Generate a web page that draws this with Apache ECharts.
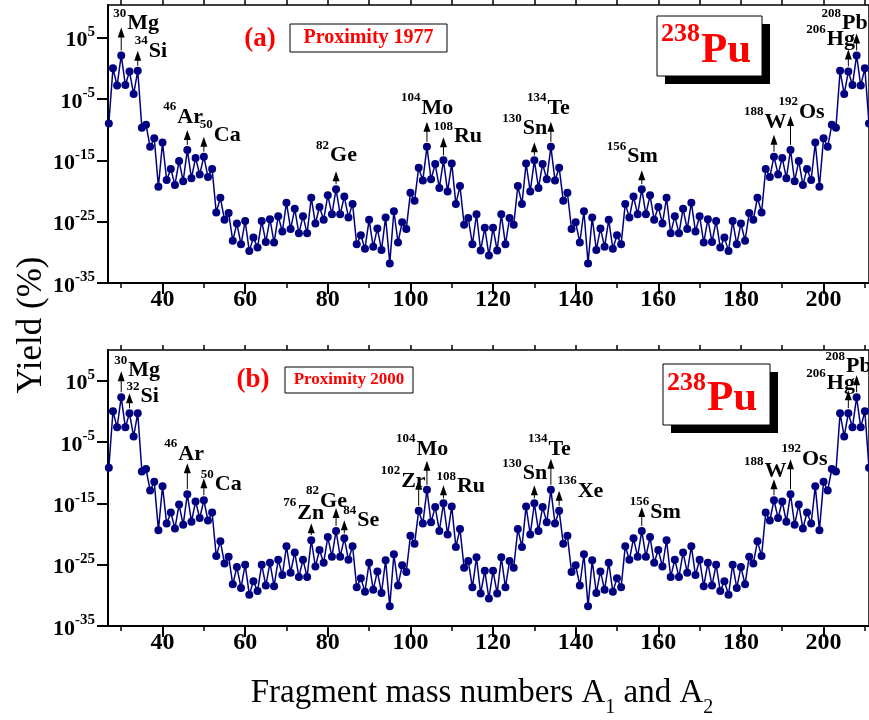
<!DOCTYPE html>
<html>
<head>
<meta charset="UTF-8">
<title>238Pu fragment yields</title>
<script src="https://cdn.jsdelivr.net/npm/echarts@6/dist/echarts.min.js"></script>
<style>
  html, body { margin: 0; padding: 0; background: #fff; }
  #chart { width: 869px; height: 720px; }
</style>
</head>
<body>
<div id="chart"></div>
<script>
  var massMin = 27, massMax = 211;
  var massNumbers = [];
  for (var a = massMin; a <= massMax; a++) massNumbers.push(a);

  // log10 of the yield (%) for A = 27 ... 211, panel (a) Proximity 1977
  var logYieldA = [
    -9.0, 0.0, -2.8, 2.1, -2.7, -0.5, -4.2, -0.4, -9.7, -9.2,
    -12.8, -11.4, -19.3, -12.1, -18.2, -16.4, -19.0, -15.1, -18.4, -13.3,
    -17.9, -14.6, -17.3, -14.4, -17.7, -16.4, -23.5, -21.1, -24.7, -23.6,
    -28.1, -25.3, -28.7, -24.9, -29.8, -27.6, -29.2, -24.9, -28.3, -24.6,
    -28.4, -24.1, -26.6, -21.9, -26.2, -22.9, -26.9, -24.1, -26.9, -21.1,
    -25.3, -22.6, -24.7, -20.7, -23.8, -19.7, -23.8, -20.9, -24.3, -22.1,
    -28.7, -27.2, -29.4, -24.7, -29.1, -26.1, -29.6, -24.3, -31.8, -23.3,
    -28.4, -25.1, -26.2, -20.3, -21.6, -16.2, -18.3, -12.8, -18.1, -15.6,
    -19.5, -15.0, -20.1, -15.5, -22.1, -19.2, -25.5, -24.4, -28.7, -23.8,
    -29.7, -26.0, -30.5,
    -26.0, -29.7, -23.8, -28.7, -24.4, -25.5, -19.2, -22.1, -15.5, -20.1,
    -15.0, -19.5, -15.6, -18.1, -12.8, -18.3, -16.2, -21.6, -20.3, -26.2,
    -25.1, -28.4, -23.3, -31.8, -24.3, -29.6, -26.1, -29.1, -24.7, -29.4,
    -27.2, -28.7, -22.1, -24.3, -20.9, -23.8, -19.7, -23.8, -20.7, -24.7,
    -22.6, -25.3, -21.1, -26.9, -24.1, -26.9, -22.9, -26.2, -21.9, -26.6,
    -24.1, -28.4, -24.6, -28.3, -24.9, -29.2, -27.6, -29.8, -24.9, -28.7,
    -25.3, -28.1, -23.6, -24.7, -21.1, -23.5, -16.4, -17.7, -14.4, -17.3,
    -14.6, -17.9, -13.3, -18.4, -15.1, -19.0, -16.4, -18.2, -12.1, -19.3,
    -11.4, -12.8, -9.2, -9.7, -0.4, -4.2, -0.5, -2.7, 2.1, -2.8,
    0.0, -9.0
  ];

  // log10 of the yield (%) for A = 27 ... 211, panel (b) Proximity 2000
  var logYieldB = [
    -9.2, 0.0, -2.6, 2.3, -2.6, -0.3, -4.1, -0.3, -9.8, -9.4,
    -12.9, -11.5, -19.4, -12.2, -18.3, -16.5, -19.1, -15.2, -18.5, -13.5,
    -18.0, -14.7, -17.4, -14.5, -17.8, -16.5, -23.6, -21.2, -24.8, -23.7,
    -28.2, -25.4, -28.8, -25.0, -29.9, -27.7, -29.3, -25.0, -28.4, -24.7,
    -28.5, -24.2, -26.7, -22.0, -26.3, -23.0, -27.0, -24.2, -27.0, -21.0,
    -25.3, -22.6, -24.7, -20.5, -23.7, -19.5, -23.7, -20.7, -24.2, -22.0,
    -28.7, -27.2, -29.4, -24.7, -29.1, -26.1, -29.6, -24.3, -31.8, -23.3,
    -28.4, -25.1, -26.2, -20.3, -21.6, -16.2, -18.3, -12.8, -18.1, -15.6,
    -19.5, -15.0, -20.1, -15.5, -22.1, -19.2, -25.5, -24.4, -28.7, -23.8,
    -29.7, -26.0, -30.5,
    -26.0, -29.7, -23.8, -28.7, -24.4, -25.5, -19.2, -22.1, -15.5, -20.1,
    -15.0, -19.5, -15.6, -18.1, -12.8, -18.3, -16.2, -21.6, -20.3, -26.2,
    -25.1, -28.4, -23.3, -31.8, -24.3, -29.6, -26.1, -29.1, -24.7, -29.4,
    -27.2, -28.7, -22.0, -24.2, -20.7, -23.7, -19.5, -23.7, -20.5, -24.7,
    -22.6, -25.3, -21.0, -27.0, -24.2, -27.0, -23.0, -26.3, -22.0, -26.7,
    -24.2, -28.5, -24.7, -28.4, -25.0, -29.3, -27.7, -29.9, -25.0, -28.8,
    -25.4, -28.2, -23.7, -24.8, -21.2, -23.6, -16.5, -17.8, -14.5, -17.4,
    -14.7, -18.0, -13.5, -18.5, -15.2, -19.1, -16.5, -18.3, -12.2, -19.4,
    -11.5, -12.9, -9.4, -9.8, -0.3, -4.1, -0.3, -2.6, 2.3, -2.6,
    0.0, -9.2
  ];

  var isoMassA = [30, 34, 46, 50, 82, 104, 108, 130, 134, 156, 188, 192, 206, 208];
  var isoNameA = ['Mg', 'Si', 'Ar', 'Ca', 'Ge', 'Mo', 'Ru', 'Sn', 'Te', 'Sm', 'W', 'Os', 'Hg', 'Pb'];
  var isoMassB = [30, 32, 46, 50, 76, 82, 84, 102, 104, 108, 130, 134, 136, 156, 188, 192, 206, 208];
  var isoNameB = ['Mg', 'Si', 'Ar', 'Ca', 'Zn', 'Ge', 'Se', 'Zr', 'Mo', 'Ru', 'Sn', 'Te', 'Xe', 'Sm', 'W', 'Os', 'Hg', 'Pb'];

  var xTicks = [40, 60, 80, 100, 120, 140, 160, 180, 200];
  var xMinorTicks = [30, 50, 70, 90, 110, 130, 150, 170, 190, 210];
  var yTicks = [-35, -25, -15, -5, 5];
  var yMinorTicks = [];
  for (var e = -34; e <= 10; e++) if ((e + 35) % 10 !== 0) yMinorTicks.push(e);

  // arrow length, label dx, label dy (pixels, relative to arrow tip)
  var arrowLayoutA = [
    [28, -8, 3], [20, -3, 7], [20, -24, -6], [20, -4, 5], [18, -20, -9],
    [25, -26, -7], [23, -10, 6], [18, -32, -7], [25, -24, -7], [19, -35, -7],
    [22, -30, -6], [34, -12, 3], [22, -42, -3], [22, -35, -3]
  ];
  var arrowLayoutB = [
    [26, -7, 6], [20, -3, 10], [31, -23, -2], [22, -3, 13], [17, -28, -3],
    [23, -30, 0], [18, -1, 7], [31, -38, 8], [29, -31, -5], [18, -7, 8],
    [18, -32, -5], [31, -23, -3], [20, -2, 7], [24, -12, 12], [21, -30, -1],
    [35, -9, 7], [23, -42, 0], [22, -31, -2]
  ];

  var SERIF = '"Liberation Serif", "DejaVu Serif", serif';
  var NAVY = '#000080';

  function pairs(logY) {
    return massNumbers.map(function (m, i) { return [m, logY[i]]; });
  }

  function arrowSeries(idx, masses, names, layout, logY) {
    var data = masses.map(function (m, i) { return [m, logY[m - massMin], i]; });
    return {
      type: 'custom', xAxisIndex: idx * 3, yAxisIndex: idx * 2, data: data,
      encode: { x: 0, y: 1 }, clip: false, silent: true, z: 10,
      renderItem: function (params, api) {
        var p = api.coord([api.value(0), api.value(1)]);
        var k = api.value(2);
        var L = layout[k];
        var x = p[0], tip = p[1] - L[0];
        var sup = String(masses[k]);
        var supW = sup.length * 6.5 + 1;
        var base = tip + L[2];
        return {
          type: 'group',
          children: [
            { type: 'line', shape: { x1: x, y1: p[1] - 5, x2: x, y2: tip + 8 }, style: { stroke: '#000', lineWidth: 1 } },
            { type: 'polygon', shape: { points: [[x, tip], [x - 3.5, tip + 10], [x + 3.5, tip + 10]] }, style: { fill: '#000' } },
            { type: 'text', style: { text: sup, x: x + L[1], y: base - 17, font: 'bold 13px ' + SERIF, fill: '#000', verticalAlign: 'middle' } },
            { type: 'text', style: { text: names[k], x: x + L[1] + supW, y: base - 6.7, font: 'bold 22px ' + SERIF, fill: '#000', verticalAlign: 'middle' } }
          ]
        };
      }
    };
  }

  function xAxes(gi) {
    return [
      {
        gridIndex: gi, type: 'value', min: 26.8, max: 211, position: 'bottom',
        axisLine: { onZero: false, lineStyle: { color: '#000', width: 2 } },
        axisTick: { customValues: xTicks, length: 11, lineStyle: { color: '#000', width: 2 } },
        axisLabel: { customValues: xTicks, color: '#000', fontFamily: SERIF, fontWeight: 'bold', fontSize: 24, margin: 5 },
        splitLine: { show: false }
      },
      {
        gridIndex: gi, type: 'value', min: 26.8, max: 211, position: 'bottom',
        axisLine: { show: false, onZero: false },
        axisTick: { customValues: xMinorTicks, length: 5, lineStyle: { color: '#000', width: 1.5 } },
        axisLabel: { show: false }, splitLine: { show: false }
      },
      {
        gridIndex: gi, type: 'value', min: 26.8, max: 211, position: 'top',
        axisLine: { show: false, onZero: false },
        axisTick: { customValues: xTicks.concat(xMinorTicks), length: 5, lineStyle: { color: '#000', width: 1.5 } },
        axisLabel: { show: false }, splitLine: { show: false }
      }
    ];
  }

  function yAxes(gi, yMax) {
    return [
      {
        gridIndex: gi, type: 'value', min: -35, max: yMax,
        axisLine: { onZero: false, lineStyle: { color: '#000', width: 2 } },
        axisTick: { customValues: yTicks, length: 11, lineStyle: { color: '#000', width: 2 } },
        axisLabel: {
          customValues: yTicks, margin: 13, color: '#000', padding: [6, 0, 0, 0],
          formatter: function (v) { return '{b|10}{s|' + v + '}'; },
          rich: {
            b: { fontFamily: SERIF, fontWeight: 'bold', fontSize: 22, lineHeight: 32, color: '#000' },
            s: { fontFamily: SERIF, fontWeight: 'bold', fontSize: 15, lineHeight: 14, verticalAlign: 'top', color: '#000' }
          }
        },
        splitLine: { show: false }
      },
      {
        gridIndex: gi, type: 'value', min: -35, max: yMax,
        axisLine: { show: false, onZero: false },
        axisTick: { customValues: yMinorTicks, length: 4, lineStyle: { color: '#000', width: 1 } },
        axisLabel: { show: false }, splitLine: { show: false }
      }
    ];
  }

  function lineSeries(idx, logY) {
    return {
      type: 'line', xAxisIndex: idx * 3, yAxisIndex: idx * 2, data: pairs(logY),
      symbol: 'circle', symbolSize: 8, showSymbol: true,
      itemStyle: { color: NAVY }, lineStyle: { color: NAVY, width: 1.5 },
      z: 3, animation: false
    };
  }

  function puBox(x, y, w, h, c1, c2) {
    return [
      { type: 'rect', shape: { x: x + 8, y: y + 8, width: w, height: h }, style: { fill: '#000' }, z: 20 },
      { type: 'rect', shape: { x: x, y: y, width: w, height: h }, style: { fill: '#fff', stroke: '#000', lineWidth: 1 }, z: 21 },
      { type: 'text', x: x + 4, y: y + c1, style: { text: '238', font: 'bold 26px ' + SERIF, fill: '#ff0000', verticalAlign: 'middle' }, z: 22 },
      { type: 'text', x: x + 44, y: y + c2, style: { text: 'Pu', font: 'bold 43px ' + SERIF, fill: '#ff0000', verticalAlign: 'middle' }, z: 22 }
    ];
  }

  var chart = echarts.init(document.getElementById('chart'), null, { renderer: 'canvas' });
  chart.setOption({
    animation: false,
    backgroundColor: '#fff',
    grid: [
      { left: 108, right: -7, top: 5, height: 278, show: true, borderColor: '#000', borderWidth: 1.5, backgroundColor: 'transparent' },
      { left: 108, right: -7, top: 350, height: 276, show: true, borderColor: '#000', borderWidth: 1.5, backgroundColor: 'transparent' }
    ],
    xAxis: xAxes(0).concat(xAxes(1)),
    yAxis: yAxes(0, 10.33).concat(yAxes(1, 10)),
    series: [
      lineSeries(0, logYieldA),
      lineSeries(1, logYieldB),
      arrowSeries(0, isoMassA, isoNameA, arrowLayoutA, logYieldA),
      arrowSeries(1, isoMassB, isoNameB, arrowLayoutB, logYieldB)
    ],
    graphic: [
      { type: 'text', x: 260, y: 39, style: { text: '(a)', font: 'bold 27px ' + SERIF, fill: '#ff0000', align: 'center', verticalAlign: 'middle' }, z: 20 },
      { type: 'rect', shape: { x: 290, y: 24, width: 157, height: 28 }, style: { fill: '#fff', stroke: '#000', lineWidth: 1 }, z: 20 },
      { type: 'text', x: 368.5, y: 38, style: { text: 'Proximity 1977', font: 'bold 20px ' + SERIF, fill: '#ff0000', align: 'center', verticalAlign: 'middle' }, z: 21 },
      { type: 'text', x: 253, y: 380, style: { text: '(b)', font: 'bold 27px ' + SERIF, fill: '#ff0000', align: 'center', verticalAlign: 'middle' }, z: 20 },
      { type: 'rect', shape: { x: 285, y: 367, width: 128, height: 26 }, style: { fill: '#fff', stroke: '#000', lineWidth: 1 }, z: 20 },
      { type: 'text', x: 349, y: 380, style: { text: 'Proximity 2000', font: 'bold 17px ' + SERIF, fill: '#ff0000', align: 'center', verticalAlign: 'middle' }, z: 21 },
      { type: 'text', x: 32, y: 325, rotation: Math.PI / 2, style: { text: 'Yield (%)', font: '35px ' + SERIF, fill: '#000', align: 'center', verticalAlign: 'middle' }, z: 20 },
      {
        type: 'text', x: 482, y: 677, z: 20,
        style: {
          text: '{n|Fragment mass numbers A}{s|1}{n| and A}{s|2}', align: 'center', verticalAlign: 'top',
          rich: {
            n: { fontFamily: SERIF, fontSize: 33, lineHeight: 28, verticalAlign: 'top', fill: '#000' },
            s: { fontFamily: SERIF, fontSize: 20, lineHeight: 61, fill: '#000' }
          }
        }
      }
    ].concat(puBox(657, 16, 105, 60, 18, 35)).concat(puBox(663, 364, 107, 61, 19, 35))
  });
</script>
</body>
</html>
